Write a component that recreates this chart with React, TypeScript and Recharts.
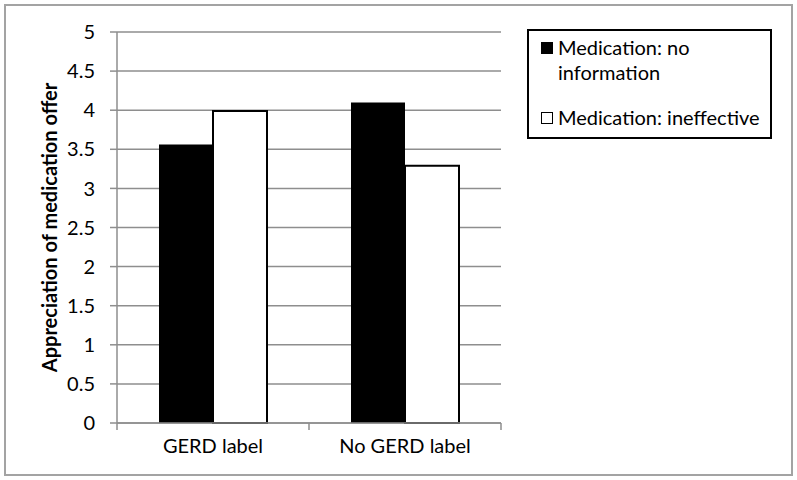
import React from 'react';
import { BarChart, Bar, XAxis, YAxis, CartesianGrid, Legend } from 'recharts';

const categories = ['GERD label', 'No GERD label'];
const noInformation = [3.56, 4.1];
const ineffective = [3.99, 3.29];
const seriesNames = ['Medication: no information', 'Medication: ineffective'];
const yTicks = [0, 0.5, 1, 1.5, 2, 2.5, 3, 3.5, 4, 4.5, 5];
const yLabel = 'Appreciation of medication offer';

const data = categories.map((c, i) => ({
  name: c,
  pos: i + 0.5,
  noInfo: noInformation[i],
  ineff: ineffective[i],
}));

const xTicks: number[] = [];
for (let i = 0; i <= categories.length * 2; i++) xTicks.push(i / 2);

const FONT = 'Lato, "Open Sans", sans-serif';
const GRID = '#8e8e8e';

const XTick = (props: any) => {
  const { x, y, payload } = props;
  const v = payload.value as number;
  if (Number.isInteger(v)) {
    return <line x1={x} x2={x} y1={y - 7} y2={y} stroke={GRID} strokeWidth={1.5} />;
  }
  return (
    <text x={x} y={y + 23} textAnchor="middle" fontFamily={FONT} fontSize={20} fill="#000">
      {categories[Math.floor(v)]}
    </text>
  );
};

const LegendBox = () => (
  <div
    style={{
      boxSizing: 'border-box',
      width: 245,
      height: 110,
      border: '2px solid #000',
      background: '#fff',
      padding: '4px 0 0 12px',
      fontFamily: FONT,
      fontSize: 20,
      lineHeight: '25px',
      color: '#000',
    }}
  >
    <div style={{ display: 'flex', alignItems: 'flex-start' }}>
      <span style={{ display: 'inline-block', width: 12, height: 12, background: '#000', marginTop: 7, marginRight: 5, flex: 'none' }} />
      <span style={{ width: 190 }}>{seriesNames[0]}</span>
    </div>
    <div style={{ display: 'flex', alignItems: 'flex-start', marginTop: 20 }}>
      <span style={{ display: 'inline-block', boxSizing: 'border-box', width: 12, height: 12, background: '#fff', border: '1.5px solid #000', marginTop: 7, marginRight: 5, flex: 'none' }} />
      <span style={{ whiteSpace: 'nowrap' }}>{seriesNames[1]}</span>
    </div>
  </div>
);

export default function App() {
  return (
    <div style={{ position: 'absolute', left: 0, top: 0, width: 797, height: 480, background: '#fff' }}>
      <div
        style={{
          position: 'absolute',
          left: 4,
          top: 4,
          width: 789,
          height: 472,
          boxSizing: 'border-box',
          border: '2px solid #a3a3a3',
        }}
      />
      <div style={{ position: 'absolute', left: 0, top: 0 }}>
        <BarChart
          width={797}
          height={480}
          data={data}
          margin={{ top: 32, right: 296, bottom: 27, left: 57 }}
          barGap={0}
        >
          <CartesianGrid vertical={false} stroke={GRID} strokeWidth={1.5} />
          <XAxis
            dataKey="pos"
            type="number"
            domain={[0, 2]}
            ticks={xTicks}
            interval={0}
            tickLine={false}
            tickSize={7}
            tickMargin={0}
            axisLine={{ stroke: GRID, strokeWidth: 1.5 }}
            tick={<XTick />}
            height={30}
          />
          <YAxis
            domain={[0, 5]}
            ticks={yTicks}
            interval={0}
            width={60}
            tickSize={7}
            tickMargin={15}
            axisLine={{ stroke: GRID, strokeWidth: 1.5 }}
            tickLine={{ stroke: GRID, strokeWidth: 1.5 }}
            tick={{ fontFamily: FONT, fontSize: 20, fill: '#000' }}
            label={{
              value: yLabel,
              angle: -90,
              position: 'left',
              offset: 7,
              style: { fontFamily: FONT, fontSize: 20, fontWeight: 700, fill: '#000', textAnchor: 'middle' },
            }}
          />
          <Legend
            layout="vertical"
            align="center"
            verticalAlign="middle"
            content={<LegendBox />}
            wrapperStyle={{ position: 'absolute', left: 527, top: 29, width: 245, height: 110 }}
          />
          <Bar dataKey="noInfo" name={seriesNames[0]} fill="#000" barSize={54} isAnimationActive={false} />
          <Bar dataKey="ineff" name={seriesNames[1]} fill="#fff" stroke="#000" strokeWidth={2} barSize={54} isAnimationActive={false} />
        </BarChart>
      </div>
    </div>
  );
}
